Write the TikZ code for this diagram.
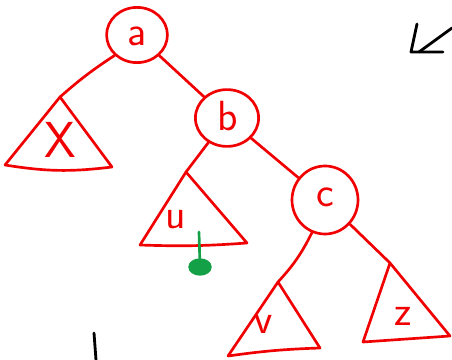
\documentclass[tikz,border=0pt]{standalone}
\usepackage{tikz}
\usepackage{xcolor}
\usetikzlibrary{shapes.geometric}
\definecolor{ink}{RGB}{240,0,0}
\definecolor{mark}{RGB}{20,160,70}
\tikzset{
  circ/.style = {ellipse, draw=ink, line width=1.9pt, inner sep=0pt},
  tri/.style  = {draw=ink, line width=1.9pt, line join=round},
  lbl/.style  = {text=ink, inner sep=0pt, font=\sffamily\fontsize{30}{32}\selectfont},
  edge/.style = {draw=ink, line width=1.9pt, line cap=round},
  pen/.style  = {draw=black, line width=2pt, line cap=round, line join=round}
}

\begin{document}
\begin{tikzpicture}[x=0.025cm, y=-0.025cm]
\useasboundingbox (0,0) rectangle (452,360);
% inner nodes
\node[circ, minimum width=1.52cm, minimum height=1.38cm] (a) at (137,35) {};
\node[circ, minimum width=1.58cm, minimum height=1.42cm] (b) at (227,118) {};
\node[circ, minimum width=1.65cm, minimum height=1.70cm] (c) at (325,200) {};
\node[lbl] (la) at (137,36) {a};
\node[lbl] (lb) at (228,116) {b};
\node[lbl] (lc) at (325,197) {c};

% subtrees
\coordinate (xtop) at (60,97);
\coordinate (utop) at (186,172);
\coordinate (vtop) at (278,282);
\coordinate (ztop) at (390,263);
\draw[tri] (xtop) -- (5,165) to[bend right=8] (112,167) -- cycle;
\draw[tri] (utop) -- (140,245) to[bend right=3] (247,243) -- cycle;
\draw[tri] (vtop) -- (228,356) to[bend left=3] (320,348) -- cycle;
\draw[tri] (ztop) -- (363,342) -- (450,336) -- cycle;
\node[lbl, font=\sffamily\fontsize{36}{38}\selectfont] (lx) at (60,140) {X};
\node[lbl] (lu) at (176,220) {u};
\node[lbl] (lv) at (264,324) {v};
\node[lbl] (lz) at (403,316) {z};

% edges
\draw[edge] (a.south west) to[bend right=4] (xtop);
\draw[edge] (a) -- (b);
\draw[edge] (b) -- (utop);
\draw[edge] (b) -- (c);
\draw[edge] (c) to[bend left=8] (vtop);
\draw[edge] (c) -- (ztop);

% green mark
\coordinate (ustem) at (199,232);
\node[ellipse, fill=mark, draw=mark, line width=1pt, minimum width=0.55cm, minimum height=0.4cm] (hole) at (200,267) {};
\draw[draw=mark, line width=1.9pt, line cap=round] (ustem) -- (hole);

% black strokes
\draw[pen] (417,24) -- (411,52) -- (443,52);
\draw[pen] (419,52) -- (452,28);
\draw[pen] (94,333) -- (96,360);
\end{tikzpicture}
\end{document}
